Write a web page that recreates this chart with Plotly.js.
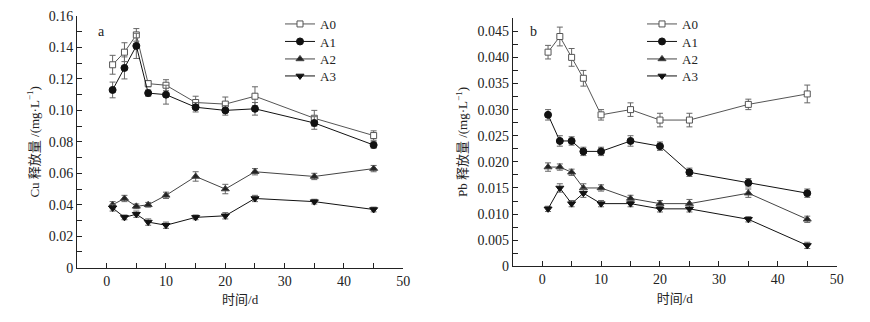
<!DOCTYPE html>
<html>
<head>
<meta charset="utf-8">
<script src="https://cdn.plot.ly/plotly-3.0.1.min.js"></script>
<style>
  html, body { margin: 0; padding: 0; background: #fff; }
  #plot { width: 870px; height: 322px; }
</style>
</head>
<body>
<div id="plot"></div>
<script>
// sampling days
const days = [1, 3, 5, 7, 10, 15, 20, 25, 35, 45];
const seriesNames = ['A0', 'A1', 'A2', 'A3'];

// Cu release (mg/L), panel a
const cuA0 = [0.129, 0.137, 0.148, 0.117, 0.116, 0.105, 0.104, 0.109, 0.095, 0.084];
const cuA1 = [0.113, 0.127, 0.141, 0.111, 0.110, 0.102, 0.100, 0.101, 0.092, 0.078];
const cuA2 = [0.040, 0.044, 0.039, 0.040, 0.046, 0.058, 0.050, 0.061, 0.058, 0.063];
const cuA3 = [0.038, 0.032, 0.034, 0.029, 0.027, 0.032, 0.033, 0.044, 0.042, 0.037];
const cuErrA0 = [0.006, 0.006, 0.004, 0.002, 0.0035, 0.004, 0.0045, 0.006, 0.005, 0.003];
const cuErrA1 = [0.005, 0.007, 0.008, 0.002, 0.006, 0.003, 0.003, 0.004, 0.004, 0.002];
const cuErrA2 = [0.002, 0.002, 0.0015, 0.0015, 0.002, 0.003, 0.003, 0.002, 0.002, 0.002];
const cuErrA3 = [0.002, 0.0015, 0.002, 0.002, 0.002, 0.0015, 0.002, 0.002, 0.0015, 0.0015];

// Pb release (mg/L), panel b
const pbA0 = [0.041, 0.044, 0.040, 0.036, 0.029, 0.030, 0.028, 0.028, 0.031, 0.033];
const pbA1 = [0.029, 0.024, 0.024, 0.022, 0.022, 0.024, 0.023, 0.018, 0.016, 0.014];
const pbA2 = [0.019, 0.019, 0.018, 0.015, 0.015, 0.013, 0.012, 0.012, 0.014, 0.009];
const pbA3 = [0.011, 0.015, 0.012, 0.014, 0.012, 0.012, 0.011, 0.011, 0.009, 0.004];
const pbErrA0 = [0.0013, 0.0018, 0.0017, 0.0015, 0.001, 0.0013, 0.0013, 0.0013, 0.001, 0.0017];
const pbErrA1 = [0.001, 0.001, 0.0008, 0.0008, 0.0008, 0.001, 0.0008, 0.0008, 0.0008, 0.0008];
const pbErrA2 = [0.0008, 0.0006, 0.0006, 0.0008, 0.0006, 0.0006, 0.0006, 0.0008, 0.0008, 0.0006];
const pbErrA3 = [0.0005, 0.0008, 0.0006, 0.0008, 0.0006, 0.0006, 0.0006, 0.0006, 0.0005, 0.0006];

// tick labels
const xTickVals = [0, 10, 20, 30, 40, 50];
const cuTickVals = [0, 0.02, 0.04, 0.06, 0.08, 0.10, 0.12, 0.14, 0.16];
const cuTickText = ['0', '0.02', '0.04', '0.06', '0.08', '0.10', '0.12', '0.14', '0.16'];
const pbTickVals = [0, 0.005, 0.010, 0.015, 0.020, 0.025, 0.030, 0.035, 0.040, 0.045];
const pbTickText = ['0', '0.005', '0.010', '0.015', '0.020', '0.025', '0.030', '0.035', '0.040', '0.045'];

const FONT = 'Liberation Serif, "Times New Roman", "Noto Sans CJK SC", serif';
const INK = '#222';

// marker look per series (fill, outline)
const styles = [
    { symbol: 'square', size: 6, fill: '#fff', color: '#555' },
    { symbol: 'circle', size: 7, fill: '#111', color: '#111' },
    { symbol: 'triangle-up', size: 7, fill: '#222', color: '#444' },
    { symbol: 'triangle-down', size: 7, fill: '#111', color: '#111' }
];

// each legend row gets its own legend box so the rows sit 17px apart like the original
function legendId(panel, idx) {
    const n = panel * 4 + idx + 1;
    return n === 1 ? 'legend' : 'legend' + n;
}

function makeTrace(name, ys, errs, idx, xa, ya, panel) {
    const s = styles[idx];
    return {
        x: days,
        y: ys,
        name: name,
        xaxis: xa,
        yaxis: ya,
        legend: legendId(panel, idx),
        mode: 'lines+markers',
        line: { color: s.color, width: 1 },
        marker: { symbol: s.symbol, size: s.size, color: s.fill, line: { color: s.color, width: 1 } },
        error_y: { type: 'data', array: errs, visible: true, color: '#666', thickness: 1, width: 3 }
    };
}

const cuSeries = [cuA0, cuA1, cuA2, cuA3];
const cuErrs = [cuErrA0, cuErrA1, cuErrA2, cuErrA3];
const pbSeries = [pbA0, pbA1, pbA2, pbA3];
const pbErrs = [pbErrA0, pbErrA1, pbErrA2, pbErrA3];

const traces = [];
seriesNames.forEach((n, i) => traces.push(makeTrace(n, cuSeries[i], cuErrs[i], i, 'x', 'y', 0)));
seriesNames.forEach((n, i) => traces.push(makeTrace(n, pbSeries[i], pbErrs[i], i, 'x2', 'y2', 1)));

const W = 870, H = 322;

function xAxis(domain, anchor) {
    return {
        domain: domain,
        anchor: anchor,
        range: [-5, 50],
        tickvals: xTickVals,
        ticks: 'inside',
        ticklen: 5,
        tickcolor: INK,
        minor: { dtick: 5, tick0: 0, ticks: 'inside', ticklen: 5, tickcolor: INK },
        showline: true,
        linecolor: INK,
        linewidth: 1,
        showgrid: false,
        zeroline: false,
        tickfont: { family: FONT, size: 14, color: INK },
        title: { text: '时间/d', font: { family: FONT, size: 13, color: INK }, standoff: 7 }
    };
}

function yAxis(domain, anchor, range, vals, text, minorStep, title) {
    return {
        domain: domain,
        anchor: anchor,
        range: range,
        tickvals: vals,
        ticktext: text,
        ticks: 'inside',
        ticklen: 5,
        tickcolor: INK,
        minor: { dtick: minorStep, tick0: 0, ticks: 'inside', ticklen: 5, tickcolor: INK },
        showline: true,
        linecolor: INK,
        linewidth: 1,
        showgrid: false,
        zeroline: false,
        tickfont: { family: FONT, size: 14, color: INK },
        title: { text: title, font: { family: FONT, size: 13, color: INK }, standoff: 6 }
    };
}

const legendRows = [24, 41.5, 59, 76];
const legendLeft = [280, 642];

const layout = {
    width: W,
    height: H,
    margin: { l: 0, r: 0, t: 0, b: 0 },
    paper_bgcolor: '#fff',
    plot_bgcolor: '#fff',
    showlegend: true,
    xaxis: xAxis([77 / W, 403.3 / W], 'y'),
    yaxis: yAxis([1 - 267.7 / H, 1 - 16 / H], 'x', [0, 0.16], cuTickVals, cuTickText, 0.01,
                 'Cu 释放量 /(mg·L<sup>−1</sup>)'),
    xaxis2: xAxis([512.7 / W, 836.7 / W], 'y2'),
    yaxis2: yAxis([1 - 266.3 / H, 1 - 17.7 / H], 'x2', [0, 0.0476], pbTickVals, pbTickText, 0.0025,
                  'Pb 释放量 /(mg·L<sup>−1</sup>)'),
    annotations: [
        { text: 'a', x: 96 / W, y: 1 - 22 / H, xref: 'paper', yref: 'paper', showarrow: false,
          font: { family: FONT, size: 14, color: INK } },
        { text: 'b', x: 533 / W, y: 1 - 22 / H, xref: 'paper', yref: 'paper', showarrow: false,
          font: { family: FONT, size: 14, color: INK } }
    ]
};

[0, 1].forEach(panel => {
    legendRows.forEach((row, idx) => {
        layout[legendId(panel, idx)] = {
            bgcolor: 'rgba(0,0,0,0)',
            font: { family: FONT, size: 13, color: INK },
            xanchor: 'left',
            yanchor: 'middle',
            itemwidth: 30,
            x: legendLeft[panel] / W,
            y: 1 - row / H
        };
    });
});

Plotly.newPlot('plot', traces, layout, { displayModeBar: false, staticPlot: true });
</script>
</body>
</html>
